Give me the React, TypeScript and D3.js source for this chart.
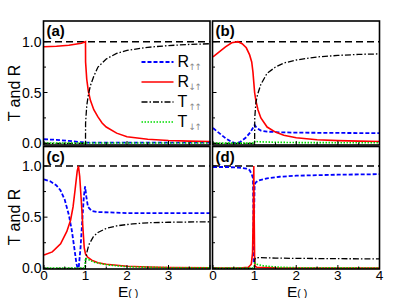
import React from "react";
import * as d3 from "d3";

// E grid values and curves (E in units of the gap)
const xTicksLeft = [0, 1, 2, 3];
const xTicksRight = [0, 1, 2, 3, 4];
const yTicks = [0, 0.5, 1];
const yTickLabels = ["0.0", "0.5", "1.0"];

const sumLine = [[0, 1], [4, 1]];

// panel (a)
const aRuu = [[0, 0.04], [0.3, 0.034], [0.6, 0.024], [0.9, 0.011], [1.0, 0.006], [1.2, 0.006], [2, 0.006], [4, 0.006]];
const aRdu = [[0, 0.95], [0.3, 0.955], [0.6, 0.965], [0.9, 0.985], [1.0, 1.0], [1.002, 0.8], [1.03, 0.63], [1.07, 0.51], [1.12, 0.42], [1.2, 0.33], [1.3, 0.26], [1.4, 0.2], [1.5, 0.16], [1.75, 0.1], [2, 0.065], [2.5, 0.04], [3, 0.028], [3.5, 0.021], [4, 0.017]];
const aTuu = [[0, 0], [1.0, 0], [1.002, 0.2], [1.03, 0.37], [1.07, 0.48], [1.12, 0.57], [1.2, 0.66], [1.3, 0.75], [1.5, 0.83], [1.75, 0.885], [2, 0.915], [2.5, 0.945], [3, 0.962], [3.5, 0.973], [4, 0.98]];
const aTdu = [[0, 0.003], [4, 0.003]];

// panel (b)
const bRuu = [[0, 0.15], [0.15, 0.1], [0.3, 0.05], [0.45, 0.012], [0.55, 0.0], [0.65, 0.012], [0.8, 0.06], [0.9, 0.11], [0.97, 0.16], [1.0, 0.18], [1.05, 0.15], [1.15, 0.125], [1.3, 0.115], [1.6, 0.108], [2, 0.105], [3, 0.102], [4, 0.1]];
const bRdu = [[0, 0.85], [0.15, 0.9], [0.3, 0.95], [0.45, 0.99], [0.6, 1.0], [0.7, 0.98], [0.8, 0.94], [0.88, 0.87], [0.93, 0.8], [0.96, 0.7], [0.98, 0.6], [1.0, 0.5], [1.03, 0.42], [1.08, 0.33], [1.15, 0.25], [1.3, 0.16], [1.5, 0.11], [1.7, 0.08], [2, 0.055], [2.5, 0.035], [3, 0.026], [3.5, 0.021], [4, 0.018]];
const bTuu = [[0, 0], [1.0, 0], [1.003, 0.25], [1.03, 0.4], [1.07, 0.48], [1.15, 0.58], [1.3, 0.69], [1.5, 0.75], [1.7, 0.79], [2, 0.82], [2.5, 0.85], [3, 0.865], [3.5, 0.875], [4, 0.88]];
const bTdu = [[0, 0.002], [0.99, 0.002], [1.0, 0.02], [1.1, 0.015], [1.5, 0.01], [2, 0.007], [4, 0.005]];

// panel (c)
const cRuu = [[0, 0.87], [0.15, 0.85], [0.3, 0.81], [0.4, 0.76], [0.5, 0.67], [0.6, 0.52], [0.67, 0.37], [0.73, 0.2], [0.78, 0.05], [0.81, 0.0], [0.84, 0.02], [0.88, 0.2], [0.92, 0.45], [0.96, 0.7], [0.99, 0.8], [1.02, 0.7], [1.06, 0.6], [1.15, 0.56], [1.3, 0.55], [2, 0.54], [4, 0.54]];
const cRdu = [[0, 0.13], [0.2, 0.16], [0.4, 0.24], [0.55, 0.36], [0.64, 0.47], [0.7, 0.6], [0.75, 0.77], [0.8, 0.95], [0.83, 1.0], [0.86, 0.9], [0.9, 0.65], [0.94, 0.38], [0.97, 0.2], [1.0, 0.14], [1.05, 0.11], [1.15, 0.08], [1.3, 0.055], [1.5, 0.04], [2, 0.02], [2.5, 0.012], [3, 0.008], [4, 0.005]];
const cTuu = [[0, 0], [1.0, 0], [1.003, 0.08], [1.03, 0.15], [1.08, 0.23], [1.19, 0.31], [1.3, 0.35], [1.5, 0.39], [1.75, 0.415], [2.14, 0.435], [2.5, 0.445], [3, 0.45], [4, 0.455]];
const cTdu = [[0, 0.002], [0.98, 0.002], [1.0, 0.1], [1.05, 0.09], [1.2, 0.06], [1.5, 0.035], [2, 0.015], [3, 0.006], [4, 0.004]];

// panel (d)
const dRuu = [[0, 0.99], [0.3, 0.99], [0.6, 0.985], [0.8, 0.975], [0.88, 0.96], [0.93, 0.92], [0.96, 0.88], [0.97, 0.6], [0.978, 0.05], [0.982, 0.05], [0.99, 0.6], [1.0, 0.82], [1.03, 0.84], [1.1, 0.86], [1.3, 0.88], [1.6, 0.895], [2, 0.905], [3, 0.915], [4, 0.92]];
const dRdu = [[0, 0.002], [0.7, 0.004], [0.85, 0.01], [0.92, 0.04], [0.95, 0.15], [0.97, 0.6], [0.98, 1.0], [0.99, 0.5], [1.0, 0.08], [1.01, 0.02], [1.05, 0.01], [1.5, 0.004], [4, 0.002]];
const dTuu = [[0, 0], [1.0, 0], [1.003, 0.08], [1.02, 0.1], [1.1, 0.105], [1.5, 0.1], [2, 0.097], [3, 0.094], [4, 0.092]];
const dTdu = [[0, 0.002], [0.98, 0.002], [1.0, 0.05], [1.05, 0.04], [1.2, 0.025], [1.5, 0.012], [2, 0.006], [4, 0.003]];

const styles = {
  sum: { stroke: "#000", width: 1.5, dash: "7,4" },
  Ruu: { stroke: "#0000ff", width: 1.8, dash: "4,2" },
  Rdu: { stroke: "#ff0000", width: 1.6, dash: null },
  Tuu: { stroke: "#000", width: 1.3, dash: "6,2,1.5,2" },
  Tdu: { stroke: "#00dd00", width: 1.6, dash: "1.5,1.5" },
};

const font = "'Liberation Sans', Arial, sans-serif";

function Panel({ id, left, right, top, bottom, y0, y1, label, series, showY, xTicks }) {
  const x = d3.scaleLinear().domain([0, 4]).range([left + 0.5, right]);
  const y = d3.scaleLinear().domain([0, 1]).range([y0, y1]);
  const line = d3.line().x((d) => x(d[0])).y((d) => y(d[1]));

  return (
    <g>
      <defs>
        <clipPath id={id}>
          <rect x={left} y={top} width={right - left} height={bottom - top} />
        </clipPath>
      </defs>
      <g clipPath={`url(#${id})`}>
        {series.map(([data, s], i) => (
          <path key={i} d={line(data)} fill="none" stroke={s.stroke} strokeWidth={s.width}
            strokeDasharray={s.dash || undefined} />
        ))}
      </g>
      {d3.range(0, 4.01, 0.5).map((t) => (
        <line key={"xt" + t} x1={x(t)} x2={x(t)} y1={bottom} y2={bottom - (t % 1 === 0 ? 4 : 2.5)} stroke="#000" />
      ))}
      {d3.range(0, 1.01, 0.25).map((t) => (
        <line key={"yt" + t} x1={left} x2={left + (t % 0.5 === 0 ? 4 : 2.5)} y1={y(t)} y2={y(t)} stroke="#000" />
      ))}
      <rect x={left} y={top} width={right - left} height={bottom - top} fill="none" stroke="#000" strokeWidth={1.6} />
      <text x={left + 3} y={top + 15} fontFamily={font} fontWeight="bold" fontSize={15}>{label}</text>
      {showY &&
        yTicks.map((t, i) => (
          <text key={"yl" + t} x={left - 2} y={y(t)} dy="0.36em" textAnchor="end" fontFamily={font} fontSize={14}>
            {yTickLabels[i]}
          </text>
        ))}
      {xTicks &&
        xTicks.map((t) => (
          <text key={"xl" + t} x={x(t)} y={bottom + 11} textAnchor="middle" fontFamily={font} fontSize={13.5}>
            {t}
          </text>
        ))}
    </g>
  );
}

function Legend({ x0, y0 }) {
  const items = [
    ["R", "\u2191\u2191", styles.Ruu],
    ["R", "\u2193\u2191", styles.Rdu],
    ["T", "\u2191\u2191", styles.Tuu],
    ["T", "\u2193\u2191", styles.Tdu],
  ];
  return (
    <g>
      {items.map(([m, sub, s], i) => (
        <g key={i} transform={`translate(${x0},${y0 + i * 20})`}>
          <line x1={0} x2={32} y1={0} y2={0} stroke={s.stroke} strokeWidth={s.width} strokeDasharray={s.dash || undefined} />
          <text x={36} y={5} fontFamily={font} fontSize={16}>
            {m}
          </text>
          <text x={47} y={8} fontFamily="'DejaVu Sans', sans-serif" fontSize={9} fill="#8a8a8a" letterSpacing={-1.5}>
            {sub}
          </text>
        </g>
      ))}
    </g>
  );
}

export default function App() {
  const L = [43.5, 210];
  const R = [212.5, 379.5];
  const T = { top: 21, bottom: 145, y0: 143.3, y1: 41.7 };
  const B = { top: 146.5, bottom: 269, y0: 268.3, y1: 166 };
  const mk = (ruu, rdu, tuu, tdu) => [
    [sumLine, styles.sum],
    [ruu, styles.Ruu],
    [rdu, styles.Rdu],
    [tuu, styles.Tuu],
    [tdu, styles.Tdu],
  ];
  return (
    <svg width={415} height={298} style={{ position: "absolute", left: 0, top: 0, background: "#fff" }}>
      <Panel id="pa" left={L[0]} right={L[1]} {...T} label="(a)" series={mk(aRuu, aRdu, aTuu, aTdu)} showY />
      <Panel id="pb" left={R[0]} right={R[1]} {...T} label="(b)" series={mk(bRuu, bRdu, bTuu, bTdu)} />
      <Panel id="pc" left={L[0]} right={L[1]} {...B} label="(c)" series={mk(cRuu, cRdu, cTuu, cTdu)} showY xTicks={xTicksLeft} />
      <Panel id="pd" left={R[0]} right={R[1]} {...B} label="(d)" series={mk(dRuu, dRdu, dTuu, dTdu)} xTicks={xTicksRight} />
      <Legend x0={141.5} y0={62} />
      {[93, 217].map((cy) => (
        <text key={cy} transform={`translate(20,${cy}) rotate(-90)`} textAnchor="middle" fontFamily={font} fontSize={16}>
          T and R
        </text>
      ))}
      {[118, 287].map((ex) => (
        <text key={ex} x={ex} y={296.5} fontFamily={font} fontSize={15.5}>
          E<tspan fontSize={10.5}>( )</tspan>
        </text>
      ))}
    </svg>
  );
}
